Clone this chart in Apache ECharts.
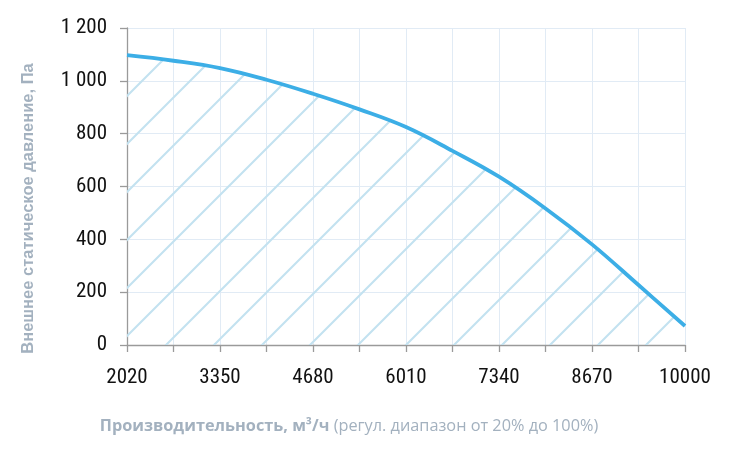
<!DOCTYPE html>
<html>
<head>
<meta charset="utf-8">
<script src="https://cdn.jsdelivr.net/npm/echarts@6/dist/echarts.min.js"></script>
<style>
html,body{margin:0;padding:0;background:#fff;}
#c{width:730px;height:456px;}
</style>
</head>
<body>
<div id="c"></div>
<script>
// Data
const airflow = [2020, 2685, 3350, 4015, 4680, 5345, 6010, 6675, 7340, 8005, 8670, 9335, 10000];
const pressure = [1097, 1076, 1048, 1004, 951, 892, 825, 735, 637, 517, 381, 227, 72];
const xTickLabels = [2020, 3350, 4680, 6010, 7340, 8670, 10000];
const yTickLabels = [0, 200, 400, 600, 800, 1000, 1200];
const yAxisTitle = 'Внешнее статическое давление, Па';
const xAxisTitleBold = 'Производительность, м³/ч';
const xAxisTitleRest = ' (регул. диапазон от 20% до 100%)';

// hatch pattern
const tile = document.createElement('canvas');
const T = 48, off = 31;
tile.width = T; tile.height = T;
const g = tile.getContext('2d');
g.strokeStyle = '#c3e2f0';
g.lineWidth = 2.1;
g.beginPath();
g.moveTo(-2, off + 2); g.lineTo(off + 2, -2);
g.moveTo(off - 2, T + 2); g.lineTo(T + 2, off - 2);
g.stroke();

const tickFont = '"Roboto Condensed", "Liberation Sans", Arial, sans-serif';
const chart = echarts.init(document.getElementById('c'));
const nameColor = '#a3b1bf';
chart.setOption({
  animation: false,
  grid: {left: 127, right: 45, top: 28, bottom: 111},
  xAxis: {
    type: 'value',
    min: airflow[0],
    max: airflow[airflow.length - 1],
    interval: 665,
    axisLine: {lineStyle: {color: '#9a9a9a', width: 1.3}},
    axisTick: {show: true, length: 7, lineStyle: {color: '#9a9a9a', width: 1.3}},
    splitLine: {show: true, lineStyle: {color: '#e1ebf5', width: 1}},
    axisLabel: {
      margin: 22,
      color: '#111',
      fontFamily: tickFont,
      fontSize: 21,
      showMinLabel: true,
      showMaxLabel: true,
      formatter: function (v) {
        return xTickLabels.indexOf(Math.round(v)) >= 0 ? String(Math.round(v)) : '';
      }
    },
    name: '{b|' + xAxisTitleBold + '}{r|' + xAxisTitleRest + '}',
    nameLocation: 'middle',
    nameGap: 73,
    nameTextStyle: {
      padding: [0, 114, 0, 0],
      rich: {
        b: {fontFamily: '"Open Sans", sans-serif', fontWeight: 'bold', fontSize: 16.3, color: nameColor},
        r: {fontFamily: '"Open Sans", sans-serif', fontSize: 16.3, color: nameColor}
      }
    }
  },
  yAxis: {
    type: 'value',
    min: 0,
    max: 1200,
    interval: 200,
    axisLine: {show: true, lineStyle: {color: '#9a9a9a', width: 1.3}},
    axisTick: {show: true, length: 7, lineStyle: {color: '#9a9a9a', width: 1.3}},
    splitLine: {show: true, lineStyle: {color: '#e1ebf5', width: 1}},
    axisLabel: {
      margin: 20,
      color: '#111',
      fontFamily: tickFont,
      fontSize: 21,
      formatter: function (v) {
        if (yTickLabels.indexOf(v) < 0) return '';
        return String(v).replace(/\B(?=(\d{3})+(?!\d))/g, ' ');
      }
    },
    name: yAxisTitle,
    nameLocation: 'middle',
    nameGap: 90,
    nameRotate: 90,
    nameTextStyle: {
      fontFamily: '"Liberation Sans", Arial, sans-serif',
      fontWeight: 'bold',
      fontSize: 16.5,
      color: nameColor,
      padding: [0, 44, 0, 0]
    }
  },
  series: [{
    type: 'line',
    data: airflow.map((x, i) => [x, pressure[i]]),
    smooth: 0.4,
    symbol: 'none',
    lineStyle: {color: '#3caee6', width: 3.8},
    areaStyle: {color: {image: tile, repeat: 'repeat'}, opacity: 1},
    z: 3
  }]
});
</script>
</body>
</html>
